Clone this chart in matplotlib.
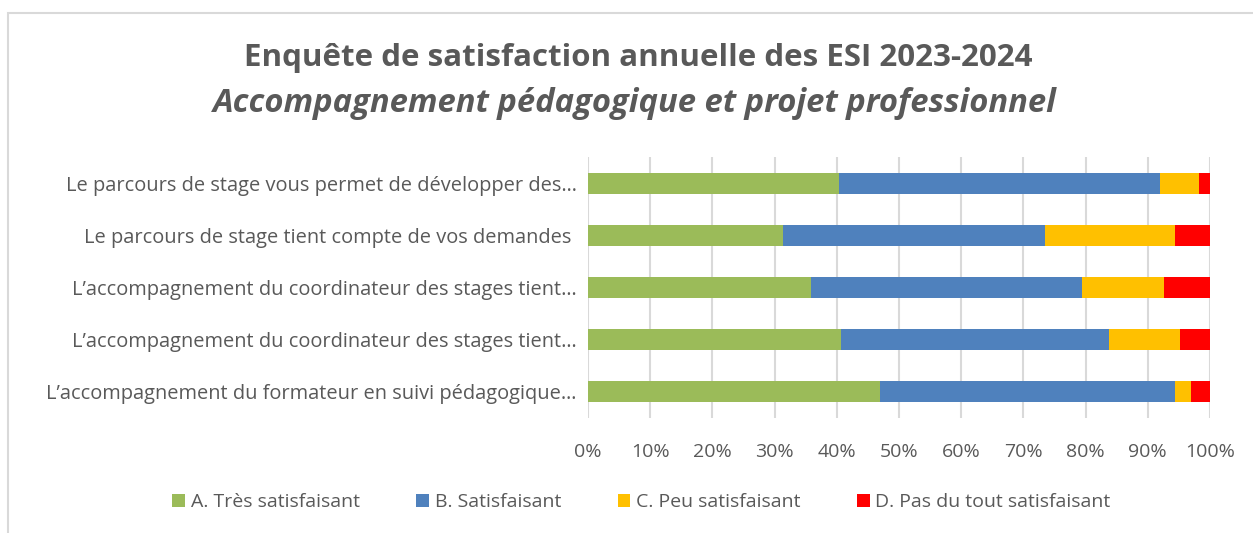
import matplotlib.pyplot as plt
import numpy as np
from matplotlib.patches import Rectangle

# Questions, top to bottom as displayed
questions = [
    "Le parcours de stage vous permet de développer des…",
    "Le parcours de stage tient compte de vos demandes ",
    "L\u2019accompagnement du coordinateur des stages tient…",
    "L\u2019accompagnement du coordinateur des stages tient…",
    "L\u2019accompagnement du formateur en suivi pédagogique…",
]

series_names = ["A. Très satisfaisant", "B. Satisfaisant",
                "C. Peu satisfaisant", "D. Pas du tout satisfaisant"]
tres_satisfaisant = [40.3, 31.4, 35.9, 40.6, 46.9]
satisfaisant = [51.7, 42.1, 43.6, 43.1, 47.5]
peu_satisfaisant = [6.2, 20.9, 13.1, 11.4, 2.5]
pas_du_tout = [1.8, 5.6, 7.4, 4.9, 3.1]
colors = ["#9bbb59", "#4f81bd", "#ffc000", "#ff0000"]

plt.rcParams['font.family'] = ['Open Sans', 'DejaVu Sans']
txt = "#595959"

fig = plt.figure(figsize=(12.53, 5.33), dpi=100)
ax = fig.add_axes([588 / 1253, 1 - 418 / 533, 622 / 1253, 261 / 533])

# chart border
fig.patches.append(Rectangle((8 / 1253, -0.1), 1.2, 1 - 13 / 533 + 0.1,
                             transform=fig.transFigure, fill=False,
                             edgecolor="#d9d9d9", lw=1.5))

y = np.arange(len(questions))
left = np.zeros(len(questions))
for name, vals, c in zip(series_names,
                         [tres_satisfaisant, satisfaisant, peu_satisfaisant, pas_du_tout],
                         colors):
    vals = np.array(vals)
    ax.barh(y, vals, left=left, height=0.4, color=c, label=name, zorder=3)
    left += vals

ax.set_xlim(0, 100)
ax.set_ylim(len(questions) - 0.5, -0.5)
ax.set_xticks(np.arange(0, 101, 10))
ax.set_xticklabels([f"{v}%" for v in range(0, 101, 10)])
ax.set_yticks(y)
ax.set_yticklabels(questions)
ax.grid(axis='x', color="#d9d9d9", lw=1.5, zorder=0)
for s in ax.spines.values():
    s.set_visible(False)
ax.tick_params(length=0, colors=txt)
ax.tick_params(axis='x', pad=18, labelsize=14)
ax.tick_params(axis='y', pad=8, labelsize=14.4)

fig.text(0.509, 1 - 58 / 533, "Enquête de satisfaction annuelle des ESI 2023-2024",
         ha='center', va='center', fontsize=22.5, fontweight='bold', color=txt)
fig.text(0.507, 1 - 104 / 533, "Accompagnement pédagogique et projet professionnel",
         ha='center', va='center', fontsize=23.6, fontweight='bold',
         style='italic', color=txt)

fig.legend(loc='center', bbox_to_anchor=(0.512, 1 - 502 / 533), ncol=4,
           frameon=False, fontsize=14, labelcolor=txt, handlelength=0.65,
           handleheight=0.65, handletextpad=0.3, columnspacing=2.9)

fig.savefig("out.png", dpi=100)
